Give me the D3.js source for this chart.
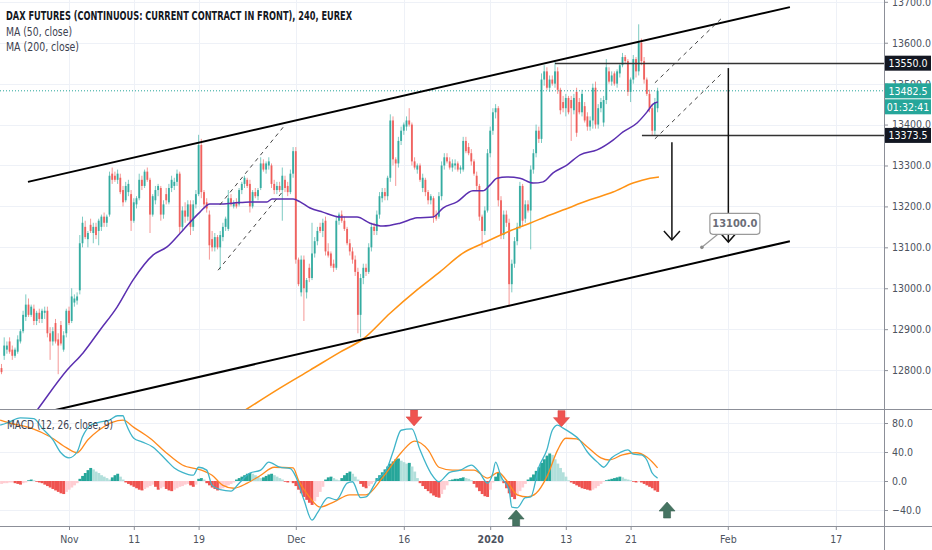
<!DOCTYPE html>
<html><head><meta charset="utf-8">
<script src="https://cdn.jsdelivr.net/npm/d3@7/dist/d3.min.js"></script>
<style>
html,body{margin:0;padding:0;background:#fff;}
svg{display:block;}
text{font-family:"Liberation Sans Narrow","DejaVu Sans Condensed","Liberation Sans",sans-serif;}
</style></head><body>
<svg id="chart" width="932" height="550"></svg>
<script>
// ---------------- DATA ----------------
const titleText = "DAX FUTURES (CONTINUOUS: CURRENT CONTRACT IN FRONT), 240, EUREX";
const legendTexts = ["MA (50, close)", "MA (200, close)"];
const macdTitle = "MACD (12, 26, close, 9)";

const opens = [12805,12835,12850,12870,12850,12835,12845,12870,12895,12930,
12960,12935,12950,12920,12940,12925,12940,12945,12890,12870,
12915,12875,12910,12850,12890,12945,12920,12965,12970,12995,
13110,13150,13120,13155,13135,13150,13140,13150,13175,13160,
13180,13280,13275,13265,13270,13240,13215,13235,13230,13165,
13205,13220,13265,13250,13285,13265,13180,13215,13240,13245,
13180,13230,13210,13245,13250,13260,13280,13150,13190,13175,
13205,13150,13205,13230,13350,13235,13210,13180,13120,13100,
13125,13100,13125,13150,13145,13220,13200,13210,13205,13240,
13255,13265,13255,13200,13235,13225,13245,13305,13290,13300,
13300,13255,13240,13250,13240,13265,13250,13235,13280,13335,
13070,12990,13070,12990,13050,13025,13085,13115,13150,13140,
13165,13090,13085,13060,13050,13165,13180,13165,13145,13110,
13090,13070,13040,12935,13025,13050,13040,13100,13150,13140,
13180,13220,13235,13225,13270,13410,13315,13305,13360,13385,
13395,13410,13400,13310,13290,13300,13245,13265,13235,13215,
13220,13180,13175,13225,13300,13320,13310,13295,13300,13305,
13290,13290,13360,13345,13330,13310,13275,13250,13175,13140,
13190,13330,13385,13430,13440,13215,13130,13180,13160,13010,
13060,13115,13150,13250,13170,13205,13190,13290,13330,13385,
13365,13510,13530,13490,13510,13500,13530,13485,13455,13440,
13465,13460,13435,13480,13455,13430,13445,13420,13395,13410,
13490,13400,13440,13405,13460,13530,13505,13525,13500,13525,
13545,13565,13555,13480,13510,13560,13530,13600,13555,13510,
13475,13440,13385,13440];
const highs = [12815,12880,12870,12880,12860,12855,12885,12900,12945,12985,
12975,12960,12960,12945,12950,12950,12955,12955,12905,12905,
12925,12890,12920,12895,12950,12955,13000,12985,12990,13130,
13175,13165,13140,13170,13160,13160,13170,13180,13185,13180,
13285,13295,13285,13290,13280,13250,13260,13265,13240,13220,
13225,13280,13275,13290,13295,13270,13230,13250,13255,13250,
13215,13245,13255,13275,13270,13290,13285,13200,13210,13215,
13215,13215,13240,13375,13365,13240,13220,13190,13140,13135,
13130,13140,13160,13175,13240,13230,13215,13220,13245,13260,
13275,13270,13265,13240,13245,13245,13320,13315,13310,13320,
13305,13265,13260,13260,13295,13275,13260,13290,13345,13345,
13075,13080,13080,13025,13060,13160,13125,13150,13160,13170,
13175,13110,13090,13070,13175,13185,13190,13175,13150,13120,
13100,13080,13050,13035,13060,13060,13110,13160,13160,13190,
13235,13245,13245,13275,13425,13420,13320,13370,13395,13405,
13420,13440,13405,13320,13305,13305,13280,13270,13240,13230,
13225,13190,13235,13310,13330,13330,13320,13315,13315,13310,
13300,13370,13370,13355,13340,13315,13285,13255,13180,13200,
13340,13395,13440,13450,13445,13225,13190,13190,13170,13070,
13125,13160,13260,13255,13215,13215,13300,13340,13400,13395,
13525,13545,13540,13520,13520,13553,13540,13490,13470,13475,
13470,13470,13475,13490,13465,13485,13455,13430,13420,13500,
13505,13450,13465,13470,13560,13540,13530,13530,13535,13550,
13575,13570,13560,13515,13570,13565,13645,13610,13565,13515,
13485,13450,13465,13490];
const lows = [12790,12825,12840,12840,12825,12830,12840,12865,12890,12920,
12930,12930,12910,12910,12915,12915,12925,12880,12825,12860,
12865,12790,12860,12845,12880,12910,12915,12955,12960,12985,
13100,13120,13100,13135,13110,13120,13105,13140,13150,13150,
13175,13255,13260,13255,13230,13200,13210,13225,13140,13160,
13195,13215,13240,13245,13260,13135,13175,13205,13225,13165,
13170,13205,13205,13235,13240,13250,13135,13140,13160,13165,
13130,13140,13195,13225,13220,13195,13185,13070,13090,13090,
13095,13045,13115,13140,13140,13200,13195,13195,13200,13230,
13245,13245,13185,13195,13220,13215,13240,13285,13280,13290,
13245,13230,13230,13235,13165,13235,13225,13230,13270,13060,
13005,12980,12920,12975,13015,13020,13075,13105,13135,13125,
13080,13075,13050,13040,13045,13155,13160,13140,13105,13080,
13060,13030,12890,12880,13010,13030,13035,13090,13130,13130,
13170,13210,13215,13215,13260,13300,13250,13295,13350,13375,
13385,13395,13300,13290,13280,13260,13235,13225,13205,13205,
13160,13165,13170,13215,13290,13305,13290,13285,13290,13285,
13280,13285,13330,13325,13300,13275,13240,13165,13100,13130,
13185,13320,13375,13415,13200,13120,13120,13150,12955,12990,
13050,13105,13145,13150,13160,13185,13095,13280,13320,13355,
13355,13495,13485,13480,13495,13490,13475,13425,13430,13420,
13425,13360,13425,13370,13425,13420,13405,13385,13385,13390,
13390,13390,13430,13395,13450,13500,13495,13495,13490,13515,
13540,13550,13470,13455,13500,13515,13520,13545,13500,13470,
13430,13373.5,13375,13430];
const closes = [12795,12860,12860,12845,12835,12850,12875,12895,12935,12960,
12935,12955,12920,12940,12925,12945,12945,12890,12870,12895,
12870,12860,12865,12885,12945,12915,12980,12975,12980,13110,
13160,13125,13135,13140,13150,13130,13165,13175,13160,13175,
13275,13265,13265,13280,13235,13210,13250,13255,13165,13210,
13220,13265,13250,13285,13265,13180,13225,13240,13250,13180,
13205,13215,13245,13265,13260,13280,13150,13190,13175,13205,
13150,13205,13230,13350,13235,13205,13195,13105,13100,13125,
13100,13130,13150,13170,13220,13205,13210,13200,13240,13255,
13270,13250,13200,13235,13225,13240,13305,13290,13305,13310,
13255,13240,13250,13240,13275,13245,13235,13280,13335,13070,
13010,13070,13000,13020,13025,13085,13115,13140,13140,13160,
13090,13080,13055,13050,13165,13180,13165,13145,13110,13090,
13070,13040,12935,13025,13050,13040,13100,13150,13140,13180,
13225,13235,13225,13270,13410,13315,13305,13360,13385,13400,
13410,13400,13310,13295,13300,13265,13270,13235,13215,13225,
13175,13170,13225,13300,13320,13310,13295,13305,13305,13290,
13295,13360,13335,13330,13310,13280,13250,13175,13140,13190,
13330,13385,13430,13440,13215,13130,13180,13160,13010,13060,
13115,13150,13250,13165,13205,13190,13290,13330,13385,13365,
13510,13530,13490,13510,13500,13530,13485,13435,13440,13465,
13430,13440,13465,13380,13430,13475,13410,13395,13410,13490,
13400,13440,13455,13460,13540,13505,13520,13500,13530,13545,
13565,13555,13480,13510,13560,13530,13600,13555,13510,13475,
13440,13385,13455,13482.5];

// MACD histogram (one value per candle)
const macdHist = [-4,-3,-3,-2,-2,-3,-4,-5,-3,-2,
1,2,1,-1,-2,-3,-5,-7,-9,-11,
-13,-15,-17,-18,-15,-12,-9,-6,-3,3,
7,11,15,18,16,13,11,8,6,4,
2,5,8,10,6,2,-2,-4,-6,-8,
-10,-12,-13,-11,-9,-7,-5,-8,-12,-10,
-8,-11,-13,-14,-12,-10,-8,-7,-5,-4,
-6,-8,-5,3,4,2,-3,-6,-9,-11,
-13,-12,-10,-8,-6,-4,-2,2,4,6,
8,10,11,10,8,6,4,5,7,9,
10,8,6,4,2,-1,-2,-1,-3,-7,
-12,-17,-22,-26,-30,-33,-28,-22,-15,-8,
2,5,6,4,2,1,4,8,11,13,
10,6,2,-4,-8,-10,-7,-4,-1,4,
8,12,16,20,24,27,30,31,28,26,
24,25,20,13,4,-3,-7,-11,-14,-17,
-20,-22,-23,-18,-12,-6,1,2,3,3,
4,5,4,3,1,-4,-9,-14,-18,-21,
-22,-12,-2,6,12,8,-3,-10,-17,-22,
-25,-20,-14,-9,-4,2,5,9,14,19,
25,30,35,38,36,30,24,18,12,6,
1,-2,-4,-6,-8,-10,-11,-12,-13,-12,
-10,-7,-4,-1,1,2,3,4,5,6,
5,3,2,1,-1,-2,-1,-2,-4,-6,
-8,-10,-13,-15];

// MACD line and signal line, read at sample candles
const macdIdx = [-0.5,2,7,12,15,19,22,25,28,30,33,36,40,43,45,46,49,52,56,61,64,67,71,73,76,78,81,85,88,92,96,99,103,107,109,112,115,117,121,124,128,130,133,135,139,143,145,148,152,155,159,162,166,170,174,177,180,182,183,185,188,189,191,194,196,199,202,204,206,208,211,214,217,221,223,226,229,232,234,237,239,241,243];
const macdVal = [77,80,87,86,73,57,39,32,40,61,77,81,84,90,90,80,59,54,47,29,18,12,8,19,15,-6,-12,-14,-3,11,15,26,19,17,6,-26,-54,-44,-23,-26,-3,-1,-23,-22,1,19,40,70,72,43,11,-1,12,15,22,12,-3,11,26,6,-12,-36,-37,-23,-22,19,43,70,77,73,66,57,40,25,19,32,39,43,37,36,29,11,4];
const signalIdx = [-0.5,3,11,18,24,28,32,36,41,45,49,55,61,67,74,78,82,86,91,96,101,108,110,114,118,123,129,135,141,148,153,158,162,167,170,175,180,184,187,191,195,198,202,206,209,213,217,222,225,230,235,239,243];
const signalVal = [84,80,73,61,46,39,57,70,81,84,74,59,39,22,15,8,-6,-10,-3,8,19,18,1,-22,-36,-29,-19,-19,4,39,55,43,19,15,15,15,4,12,1,-19,-22,-17,6,43,59,58,47,32,29,36,39,33,18];

// Moving averages read at sample candles
const ma50Idx = [7.6,13.5,24.3,30.2,36.5,42.8,48.7,56.1,61.3,67.2,73.5,77.2,80.9,85.7,92,98.3,100.2,108,110.6,114.3,119,125.4,131.7,136.5,141.3,147.6,153.9,159.8,163.5,168.7,174.6,178.3,180.9,183.5,187.2,192,196.9,200.6,204.3,209.4,214.3,220.6,226.5,230.2,235.4,239.1,241.3,243.1];
const ma50Val = [12653,12705,12800,12842,12898,12954,13020,13081,13101,13142,13186,13206,13206,13208,13211,13211,13218,13218,13211,13196,13186,13174,13174,13159,13152,13159,13172,13174,13196,13211,13238,13238,13252,13269,13272,13269,13257,13260,13282,13301,13326,13338,13362,13382,13404,13431,13450,13455];
const ma200Idx = [84.6,90.9,103.1,114.3,125.4,133.9,143.9,153.9,162.4,170.9,178.3,187.2,195.7,203.1,207.9,217.9,226.5,233.9,240.2,243.5];
const ma200Val = [12678,12705,12756,12800,12844,12876,12939,12996,13040,13086,13110,13137,13159,13179,13191,13216,13235,13257,13269,13272];

// axes
const priceTicks = [12800,12900,13000,13100,13200,13300,13400,13500,13600,13700];
const macdTicks = [-40,0,40,80];
const timeTickIdx = [25,49,73,109,149,181,209,233,269,309];
const timeTickLabels = ["Nov","11","19","Dec","16","2020","13","21","Feb","17"];

// price marks and drawings (candle index, price)
const lastPrice = 13482.5;
const countdown = "01:32:41";
const levelPrices = [13550, 13373.5];
const levelStartIdx = [205, 237.2];
const channelTopIdx = [9.8, 292], channelTopPrice = [13260, 13687];
const channelBotIdx = [14.3, 292], channelBotPrice = [12694, 13115];
const dashIdx = [[80.9,105],[80.2,104.6],[242,267.2],[242,267.2]];
const dashPrice = [[13204,13399],[13044,13240],[13502,13663],[13365,13528]];
const arrowIdx = [248.3, 269.2];
const arrowTop = [13357, 13538], arrowBottom = [13118, 13113];
const targetLabel = "13100.0", targetIdx = 259.4, targetPrice = 13100;
// MACD pane arrow marks (candle index, macd value at tip)
const downMarkIdx = [152.8, 207.4], downMarkVal = [76, 75];
const upMarkIdx = [190.6, 246.5], upMarkVal = [-40, -29];

// ---------------- LAYOUT ----------------
const PR = 884, MB = 409, DB = 526, step = 2.7;
const svg = d3.select('#chart');
const x = d3.scaleLinear().domain([0, 327]).range([1.5, 1.5 + 327 * step]);
const yP = d3.scaleLinear().domain([12800, 13700]).range([370.1, 1.8]);
const yM = d3.scaleLinear().domain([-40, 80]).range([510, 423]);

const defs = svg.append('defs');
defs.append('clipPath').attr('id', 'cm').append('rect').attr('x', 0).attr('y', 0).attr('width', PR).attr('height', MB);
defs.append('clipPath').attr('id', 'cd').append('rect').attr('x', 0).attr('y', MB).attr('width', PR).attr('height', DB - MB);

svg.append('rect').attr('width', 932).attr('height', 550).attr('fill', '#fff');

// grid
const grid = svg.append('g').attr('stroke', '#eef1f7').attr('stroke-width', 1);
grid.selectAll(null).data(priceTicks).join('line')
  .attr('x1', 0).attr('x2', PR).attr('y1', d => Math.round(yP(d)) + 0.5).attr('y2', d => Math.round(yP(d)) + 0.5);
grid.selectAll(null).data(macdTicks).join('line')
  .attr('x1', 0).attr('x2', PR).attr('y1', d => Math.round(yM(d)) + 0.5).attr('y2', d => Math.round(yM(d)) + 0.5);
grid.selectAll(null).data(timeTickIdx).join('line')
  .attr('x1', d => Math.round(x(d)) + 0.5).attr('x2', d => Math.round(x(d)) + 0.5).attr('y1', 0).attr('y2', DB);

// ---------------- MAIN PANE ----------------
const main = svg.append('g').attr('clip-path', 'url(#cm)');
const idx = d3.range(opens.length);
const up = i => closes[i] >= opens[i];
main.selectAll(null).data(idx).join('line')
  .attr('x1', i => x(i)).attr('x2', i => x(i))
  .attr('y1', i => yP(highs[i])).attr('y2', i => yP(lows[i]))
  .attr('stroke', i => up(i) ? '#26a69a' : '#ef5350').attr('stroke-opacity', 0.6).attr('stroke-width', 1);
main.selectAll(null).data(idx).join('rect')
  .attr('x', i => x(i) - 0.95).attr('width', 1.9)
  .attr('y', i => yP(Math.max(opens[i], closes[i])))
  .attr('height', i => Math.max(1, Math.abs(yP(opens[i]) - yP(closes[i]))))
  .attr('fill', i => up(i) ? '#26a69a' : '#ef5350').attr('fill-opacity', 0.85);

const maLine = d3.line().x(d => x(d[0])).y(d => yP(d[1])).curve(d3.curveMonotoneX);
main.append('path').datum(ma200Idx.map((v, k) => [v, ma200Val[k]])).attr('d', maLine)
  .attr('fill', 'none').attr('stroke', '#ff9315').attr('stroke-width', 1.6);
main.append('path').datum(ma50Idx.map((v, k) => [v, ma50Val[k]])).attr('d', maLine)
  .attr('fill', 'none').attr('stroke', '#5b2fb0').attr('stroke-width', 1.5);

// last price dotted line
main.append('line').attr('x1', 0).attr('x2', PR).attr('y1', yP(lastPrice)).attr('y2', yP(lastPrice))
  .attr('stroke', '#26a69a').attr('stroke-width', 1).attr('stroke-dasharray', '1,2');

// channel
[[channelTopIdx, channelTopPrice], [channelBotIdx, channelBotPrice]].forEach(([ix, pr]) => {
  main.append('line').attr('x1', x(ix[0])).attr('y1', yP(pr[0])).attr('x2', x(ix[1])).attr('y2', yP(pr[1]))
    .attr('stroke', '#000').attr('stroke-width', 2);
});
// dashed parallels
dashIdx.forEach((ix, k) => {
  main.append('line').attr('x1', x(ix[0])).attr('y1', yP(dashPrice[k][0])).attr('x2', x(ix[1])).attr('y2', yP(dashPrice[k][1]))
    .attr('stroke', '#444').attr('stroke-width', 1).attr('stroke-dasharray', '4,4');
});
// horizontal levels
levelPrices.forEach((p, k) => {
  main.append('line').attr('x1', x(levelStartIdx[k])).attr('x2', PR).attr('y1', Math.round(yP(p)) + 0.5).attr('y2', Math.round(yP(p)) + 0.5)
    .attr('stroke', '#333').attr('stroke-width', 1.3);
});
// arrows
arrowIdx.forEach((ix, k) => {
  const ax = x(ix), yt = yP(arrowTop[k]), yb = yP(arrowBottom[k]);
  main.append('line').attr('x1', ax).attr('x2', ax).attr('y1', yt).attr('y2', yb).attr('stroke', '#111').attr('stroke-width', 1.5);
  main.append('path').attr('d', `M${ax - 8},${yb - 9}L${ax},${yb}L${ax + 8},${yb - 9}`)
    .attr('fill', 'none').attr('stroke', '#111').attr('stroke-width', 1.5);
});
// target callout label
{
  const tx = x(targetIdx), ty = yP(targetPrice);
  main.append('line').attr('x1', tx).attr('y1', ty).attr('x2', tx + 16).attr('y2', ty - 13).attr('stroke', '#9a9a9a').attr('stroke-width', 1.2);
  main.append('circle').attr('cx', tx).attr('cy', ty).attr('r', 1.8).attr('fill', '#8a8a8a');
  main.append('rect').attr('x', tx + 8).attr('y', ty - 34).attr('width', 50).attr('height', 21).attr('rx', 3)
    .attr('fill', '#fff').attr('stroke', '#9a9a9a').attr('stroke-width', 1.2);
  main.append('text').attr('x', tx + 33).attr('y', ty - 20).attr('text-anchor', 'middle')
    .attr('font-size', 11).attr('font-weight', 'bold').attr('fill', '#6b6e78').text(targetLabel);
}

// ---------------- MACD PANE ----------------
const pane = svg.append('g').attr('clip-path', 'url(#cd)');
const histColor = i => {
  const v = macdHist[i], pv = i > 0 ? macdHist[i - 1] : v;
  if (v >= 0) return v >= pv ? '#26a69a' : '#b2dfdb';
  return v < pv ? '#ef5350' : '#ffcdd2';
};
pane.selectAll(null).data(d3.range(macdHist.length)).join('rect')
  .attr('x', i => x(i) - step / 2).attr('width', step + 0.2)
  .attr('y', i => Math.min(yM(0), yM(macdHist[i])))
  .attr('height', i => Math.abs(yM(macdHist[i]) - yM(0)))
  .attr('fill', histColor);
const mLine = d3.line().x(d => x(d[0])).y(d => yM(d[1])).curve(d3.curveMonotoneX);
pane.append('path').datum(signalIdx.map((v, k) => [v, signalVal[k]])).attr('d', mLine)
  .attr('fill', 'none').attr('stroke', '#ff8a1e').attr('stroke-width', 1.3);
pane.append('path').datum(macdIdx.map((v, k) => [v, macdVal[k]])).attr('d', mLine)
  .attr('fill', 'none').attr('stroke', '#3fb4c9').attr('stroke-width', 1.3);

// arrow marks
downMarkIdx.forEach((ix, k) => {
  const cx = x(ix), ty = yM(downMarkVal[k]);
  pane.append('path').attr('d', `M${cx - 3.5},${ty - 16}h7v7h4.5L${cx},${ty}L${cx - 8},${ty - 9}h4.5z`)
    .attr('fill', '#ef5350').attr('stroke', '#d84a47').attr('stroke-width', 0.6);
});
upMarkIdx.forEach((ix, k) => {
  const cx = x(ix), ty = yM(upMarkVal[k]);
  pane.append('path').attr('d', `M${cx},${ty}L${cx + 8},${ty + 9}h-4.5v7h-7v-7h-4.5z`)
    .attr('fill', '#467462').attr('stroke', '#3b6353').attr('stroke-width', 0.6);
});

// ---------------- FRAME & AXES ----------------
svg.append('line').attr('x1', 0).attr('x2', 932).attr('y1', MB + 0.5).attr('y2', MB + 0.5).attr('stroke', '#8c8f98');
svg.append('line').attr('x1', 0).attr('x2', 932).attr('y1', DB + 0.5).attr('y2', DB + 0.5).attr('stroke', '#8c8f98');
svg.append('line').attr('x1', PR + 0.5).attr('x2', PR + 0.5).attr('y1', 0).attr('y2', 550).attr('stroke', '#8c8f98');

const styleAxis = g => {
  g.select('.domain').remove();
  g.selectAll('line').attr('stroke', '#8c8f98');
  g.selectAll('text').attr('fill', '#4c525e').attr('font-size', 10.5)
    .attr('font-family', '"Liberation Sans Narrow","DejaVu Sans Condensed","Liberation Sans",sans-serif');
};
svg.append('g').attr('transform', `translate(${PR},0)`)
  .call(d3.axisRight(yP).tickValues(priceTicks).tickSize(4).tickPadding(4).tickFormat(d3.format('.1f'))).call(styleAxis);
svg.append('g').attr('transform', `translate(${PR},0)`)
  .call(d3.axisRight(yM).tickValues(macdTicks).tickSize(4).tickPadding(4).tickFormat(d3.format('.1f'))).call(styleAxis);
const xa = svg.append('g').attr('transform', `translate(0,${DB})`)
  .call(d3.axisBottom(x).tickValues(timeTickIdx).tickSize(4).tickPadding(6).tickFormat((d, k) => timeTickLabels[k])).call(styleAxis);
xa.selectAll('text').attr('font-weight', (d, k) => timeTickLabels[k] === '2020' ? 'bold' : 'normal');

// price labels on axis
const axLabel = (p, txt, bg, yc) => {
  svg.append('rect').attr('x', PR + 1).attr('y', yc - 7.5).attr('width', 46).attr('height', 15).attr('fill', bg);
  svg.append('text').attr('x', PR + 24).attr('y', yc + 3.8).attr('text-anchor', 'middle').attr('fill', '#fff')
    .attr('font-size', 10.5).text(txt);
};
levelPrices.forEach(p => axLabel(p, d3.format('.1f')(p), '#131722', yP(p)));
axLabel(lastPrice, d3.format('.1f')(lastPrice), '#26a69a', yP(lastPrice));
axLabel(lastPrice, countdown, '#26a69a', yP(lastPrice) + 16);

// ---------------- LEGENDS ----------------
svg.append('text').attr('x', 6).attr('y', 19.5).attr('font-size', 11.5).attr('font-weight', 'bold').attr('fill', '#131722')
  .attr('textLength', 346).attr('lengthAdjust', 'spacingAndGlyphs').text(titleText);
legendTexts.forEach((t, k) => {
  svg.append('text').attr('x', 6).attr('y', 35.5 + k * 15.5).attr('font-size', 11.5).attr('fill', '#3d4250')
    .attr('textLength', k === 0 ? 66 : 73).attr('lengthAdjust', 'spacingAndGlyphs').text(t);
});
svg.append('text').attr('x', 7).attr('y', 428.5).attr('font-size', 11.5).attr('fill', '#3d4250')
  .attr('textLength', 106).attr('lengthAdjust', 'spacingAndGlyphs').text(macdTitle);
</script></body></html>
